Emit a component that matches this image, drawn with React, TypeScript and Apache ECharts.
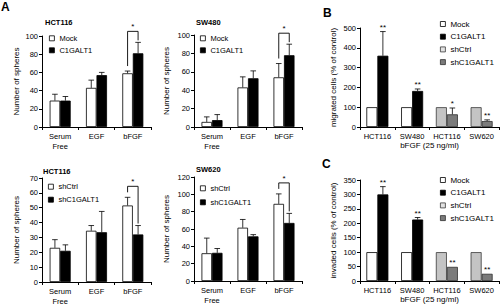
import React, { useEffect, useRef } from 'react';
import * as echarts from 'echarts';

const FONT = "'Liberation Sans', Arial, Helvetica, sans-serif";
const INK = '#000';

// ---------- Panel A: sphere formation ----------
const sphereCats = ['Serum\nFree', 'EGF', 'bFGF'];

// HCT116 (overexpression)
const hctMock = [29, 43, 59];
const hctMockSd = [7, 8.5, 2.5];
const hctC1 = [29, 57, 81];
const hctC1Sd = [4.5, 3, 12];
const hctSig = ['', '', '*'];

// SW480 (overexpression)
const swMock = [5.5, 43, 54];
const swMockSd = [5.5, 11.5, 15];
const swC1 = [7.5, 53, 78];
const swC1Sd = [6, 8, 12];
const swSig = ['', '', '*'];

// HCT116 (knockdown)
const hctShCtrl = [23, 34.5, 51.5];
const hctShCtrlSd = [5.5, 3.5, 5.5];
const hctSh = [21, 33.5, 32];
const hctShSd = [4, 14, 6];
const hctShSig = ['', '', '*'];

// SW620 (knockdown)
const sw620ShCtrl = [32, 61.5, 89];
const sw620ShCtrlSd = [17.5, 9.5, 11.5];
const sw620Sh = [32.5, 51.5, 67];
const sw620ShSd = [5, 2, 11];
const sw620Sig = ['', '', '*'];

// ---------- Panels B / C ----------
const bfgfCats = ['HCT116', 'SW480', 'HCT116', 'SW620'];

const migMock = [100, 100, null, null];
const migC1 = [360, 182, null, null];
const migC1Sd = [122, 10, null, null];
const migShCtrl = [null, null, 100, 100];
const migSh = [null, null, 64, 30];
const migShSd = [null, null, 32, 6];
const migSig = ['**', '**', '*', '**'];

const invMock = [100, 100, null, null];
const invC1 = [300, 213, null, null];
const invC1Sd = [27, 7, null, null];
const invShCtrl = [null, null, 100, 100];
const invSh = [null, null, 49, 25];
const invShSd = [null, null, null, null];
const invSig = ['**', '**', '**', '**'];

// ---------- styles ----------
const BW_A = 10.5;
const BW_B = 11;
const CAP = 2.8;
const WHITE_BAR = { color: '#ffffff', borderColor: '#000', borderWidth: 0.8 };
const BLACK_BAR = { color: '#000000', borderColor: '#000', borderWidth: 0.8 };
const LIGHT_BAR = { color: '#c4c4c4', borderColor: '#3a3a3a', borderWidth: 0.8 };
const DARK_BAR = { color: '#7b7b7b', borderColor: '#2e2e2e', borderWidth: 0.8 };
const LINE = { stroke: '#000', lineWidth: 0.8 };

function barSeries(gi: number, name: string, data: any[], style: any, bw: number, stack?: string) {
  return {
    type: 'bar', name, xAxisIndex: gi, yAxisIndex: gi,
    data: data.map((v) => (v == null ? '-' : v)),
    barWidth: bw, barGap: '0%', stack, itemStyle: style,
    silent: true, emphasis: { disabled: true }, z: 2,
  };
}

function errSeries(gi: number, means: any[], sds: any[], side: number, bw: number) {
  const data: number[][] = [];
  means.forEach((m, i) => {
    const s = sds[i];
    if (m != null && s) data.push([i, m, m + s]);
  });
  return {
    type: 'custom', xAxisIndex: gi, yAxisIndex: gi, silent: true, z: 3,
    data, encode: { x: 0, y: [1, 2] },
    renderItem: (params: any, api: any) => {
      const b = api.coord([api.value(0), api.value(1)]);
      const t = api.coord([api.value(0), api.value(2)]);
      const x = b[0] + (side * bw) / 2;
      return {
        type: 'group',
        children: [
          { type: 'line', shape: { x1: x, y1: b[1], x2: x, y2: t[1] }, style: LINE },
          { type: 'line', shape: { x1: x - CAP, y1: t[1], x2: x + CAP, y2: t[1] }, style: LINE },
        ],
      };
    },
  };
}

function bracketSeries(gi: number, sig: string[], mL: number[], sL: number[], mR: number[], sR: number[], bw: number) {
  const data: number[][] = [];
  sig.forEach((s, i) => {
    if (s) data.push([i, mL[i] + (sL[i] || 0), mR[i] + (sR[i] || 0)]);
  });
  return {
    type: 'custom', xAxisIndex: gi, yAxisIndex: gi, silent: true, z: 4,
    data, encode: { x: 0, y: [1, 2] },
    renderItem: (params: any, api: any) => {
      const i = api.value(0);
      const pl = api.coord([i, api.value(1)]);
      const pr = api.coord([i, api.value(2)]);
      const xl = pl[0] - bw / 2;
      const xr = pl[0] + bw / 2;
      const top = Math.min(pl[1], pr[1]) - 11;
      return {
        type: 'group',
        children: [
          {
            type: 'polyline',
            shape: { points: [[xl, pl[1] - 5], [xl, top], [xr, top], [xr, pr[1] - 2]] },
            style: { stroke: '#000', lineWidth: 0.9, fill: 'none' },
          },
          {
            type: 'text', x: (xl + xr) / 2, y: top - 0.5,
            style: { text: sig[i], fontSize: 8, fill: INK, align: 'center', verticalAlign: 'bottom', fontFamily: FONT },
          },
        ],
      };
    },
  };
}

function starSeries(gi: number, sig: string[], topMeans: any[], topSds: any[], bw: number) {
  const data = sig.map((s, i) => [i, (topMeans[i] || 0) + (topSds[i] || 0)]);
  return {
    type: 'custom', xAxisIndex: gi, yAxisIndex: gi, silent: true, z: 4,
    data, encode: { x: 0, y: 1 },
    renderItem: (params: any, api: any) => {
      const i = api.value(0);
      const p = api.coord([i, api.value(1)]);
      return {
        type: 'text', x: p[0] + bw / 2, y: p[1] - 0.5,
        style: { text: sig[i], fontSize: 8, fill: INK, align: 'center', verticalAlign: 'bottom', fontFamily: FONT },
      };
    },
  };
}

function xAxisCfg(gi: number, data: string[], fontSize: number, extra: any = {}) {
  return {
    type: 'category', gridIndex: gi, data,
    axisLine: { show: true, lineStyle: { color: '#000', width: 1 } },
    axisTick: { show: true, length: 3, alignWithLabel: false, interval: 0, lineStyle: { color: '#000' } },
    axisLabel: { fontSize, lineHeight: 10, margin: 4, interval: 0, color: INK, fontFamily: FONT },
    splitLine: { show: false },
    ...extra,
  };
}

function yAxisCfg(gi: number, max: number, interval: number, name: string, nameGap: number, fontSize: number) {
  return {
    type: 'value', gridIndex: gi, min: 0, max, interval,
    name, nameLocation: 'middle', nameGap,
    nameTextStyle: { fontSize: 8, color: INK, fontFamily: FONT },
    axisLine: { show: true, lineStyle: { color: '#000', width: 1 } },
    axisTick: { show: true, length: 3, lineStyle: { color: '#000' } },
    splitLine: { show: false },
    axisLabel: { fontSize, color: INK, margin: 4, fontFamily: FONT },
  };
}

function legendCfg(left: number, top: number, gap: number, fontSize: number, names: string[], styles: any[]) {
  return {
    show: true, orient: 'vertical', left, top, padding: 0, itemGap: gap,
    itemWidth: 5, itemHeight: 5, icon: 'rect', selectedMode: false,
    textStyle: { fontSize, lineHeight: 9, color: INK, fontFamily: FONT },
    data: names.map((n, i) => ({ name: n, itemStyle: styles[i] })),
  };
}

function titleCfg(text: string, left: number, top: number, fontSize: number) {
  return { text, left, top, padding: 0, textStyle: { fontSize, fontWeight: 'bold', color: '#000', fontFamily: FONT } };
}

export default function App() {
  const ref = useRef<HTMLDivElement>(null);
  useEffect(() => {
    if (!ref.current) return;
    const chart = echarts.init(ref.current, null, { renderer: 'svg' });
    const option: any = {
      animation: false,
      backgroundColor: '#ffffff',
      textStyle: { fontFamily: FONT },
      title: [
        titleCfg('A', 1, 1, 12),
        titleCfg('B', 323, 7, 12),
        titleCfg('C', 322, 158, 12),
        titleCfg('HCT116', 45, 18, 7.5),
        titleCfg('SW480', 196, 18, 7.5),
        titleCfg('HCT116', 43, 167, 7.5),
        titleCfg('SW620', 196, 165, 7.5),
      ],
      grid: [
        { left: 42, top: 36, width: 109, height: 91, outerBoundsMode: 'none' },
        { left: 194, top: 35, width: 108, height: 92, outerBoundsMode: 'none' },
        { left: 42, top: 178, width: 109, height: 104, outerBoundsMode: 'none' },
        { left: 194, top: 177, width: 108, height: 104, outerBoundsMode: 'none' },
        { left: 360, top: 28, width: 139, height: 99, outerBoundsMode: 'none' },
        { left: 360, top: 180, width: 139, height: 101, outerBoundsMode: 'none' },
      ],
      xAxis: [
        xAxisCfg(0, sphereCats, 7.5),
        xAxisCfg(1, sphereCats, 7.5),
        xAxisCfg(2, sphereCats, 7.5),
        xAxisCfg(3, sphereCats, 7.5),
        xAxisCfg(4, bfgfCats, 7.5, { name: 'bFGF (25 ng/ml)', nameLocation: 'middle', nameGap: 14, nameTextStyle: { fontSize: 8, color: INK, fontFamily: FONT } }),
        xAxisCfg(5, bfgfCats, 7.5, { name: 'bFGF (25 ng/ml)', nameLocation: 'middle', nameGap: 12, nameTextStyle: { fontSize: 8, color: INK, fontFamily: FONT } }),
      ],
      yAxis: [
        yAxisCfg(0, 100, 20, 'Number of spheres', 22, 7.5),
        yAxisCfg(1, 100, 20, 'Number of spheres', 24, 7.5),
        yAxisCfg(2, 70, 10, 'Number of spheres', 22, 7.5),
        yAxisCfg(3, 120, 20, 'Number of spheres', 24, 7.5),
        yAxisCfg(4, 500, 100, 'migrated cells (% of control)', 23, 7.5),
        yAxisCfg(5, 350, 50, 'invaded cells (% of control)', 23, 7.5),
      ],
      legend: [
        legendCfg(49, 33.8, 3, 7.5, ['Mock', 'C1GALT1'], [WHITE_BAR, BLACK_BAR]),
        legendCfg(200, 33.8, 3, 7.5, ['Mock', 'C1GALT1'], [WHITE_BAR, BLACK_BAR]),
        legendCfg(48, 182.2, 4, 7.5, ['shCtrl', 'shC1GALT1'], [WHITE_BAR, BLACK_BAR]),
        legendCfg(200, 183.8, 5, 7.5, ['shCtrl', 'shC1GALT1'], [WHITE_BAR, BLACK_BAR]),
        legendCfg(440, 19.5, 3.7, 8, ['Mock', 'C1GALT1', 'shCtrl', 'shC1GALT1'], [WHITE_BAR, BLACK_BAR, { ...LIGHT_BAR, color: '#e2e2e2' }, DARK_BAR]),
        legendCfg(440, 175.5, 3.7, 8, ['Mock', 'C1GALT1', 'shCtrl', 'shC1GALT1'], [WHITE_BAR, BLACK_BAR, { ...LIGHT_BAR, color: '#e2e2e2' }, DARK_BAR]),
      ],
      series: [
        // A: HCT116
        barSeries(0, 'Mock', hctMock, WHITE_BAR, BW_A),
        barSeries(0, 'C1GALT1', hctC1, BLACK_BAR, BW_A),
        errSeries(0, hctMock, hctMockSd, -1, BW_A),
        errSeries(0, hctC1, hctC1Sd, 1, BW_A),
        bracketSeries(0, hctSig, hctMock, hctMockSd, hctC1, hctC1Sd, BW_A),
        // A: SW480
        barSeries(1, 'Mock', swMock, WHITE_BAR, BW_A),
        barSeries(1, 'C1GALT1', swC1, BLACK_BAR, BW_A),
        errSeries(1, swMock, swMockSd, -1, BW_A),
        errSeries(1, swC1, swC1Sd, 1, BW_A),
        bracketSeries(1, swSig, swMock, swMockSd, swC1, swC1Sd, BW_A),
        // A: HCT116 knockdown
        barSeries(2, 'shCtrl', hctShCtrl, WHITE_BAR, BW_A),
        barSeries(2, 'shC1GALT1', hctSh, BLACK_BAR, BW_A),
        errSeries(2, hctShCtrl, hctShCtrlSd, -1, BW_A),
        errSeries(2, hctSh, hctShSd, 1, BW_A),
        bracketSeries(2, hctShSig, hctShCtrl, hctShCtrlSd, hctSh, hctShSd, BW_A),
        // A: SW620 knockdown
        barSeries(3, 'shCtrl', sw620ShCtrl, WHITE_BAR, BW_A),
        barSeries(3, 'shC1GALT1', sw620Sh, BLACK_BAR, BW_A),
        errSeries(3, sw620ShCtrl, sw620ShCtrlSd, -1, BW_A),
        errSeries(3, sw620Sh, sw620ShSd, 1, BW_A),
        bracketSeries(3, sw620Sig, sw620ShCtrl, sw620ShCtrlSd, sw620Sh, sw620ShSd, BW_A),
        // B: migration
        barSeries(4, 'Mock', migMock, WHITE_BAR, BW_B, 'migL'),
        barSeries(4, 'C1GALT1', migC1, BLACK_BAR, BW_B, 'migR'),
        barSeries(4, 'shCtrl', migShCtrl, LIGHT_BAR, BW_B, 'migL'),
        barSeries(4, 'shC1GALT1', migSh, DARK_BAR, BW_B, 'migR'),
        errSeries(4, migC1, migC1Sd, 1, BW_B),
        errSeries(4, migSh, migShSd, 1, BW_B),
        starSeries(4, migSig, migC1.map((v, i) => (v != null ? v : migSh[i])), migC1Sd.map((v, i) => (v != null ? v : migShSd[i])), BW_B),
        // C: invasion
        barSeries(5, 'Mock', invMock, WHITE_BAR, BW_B, 'invL'),
        barSeries(5, 'C1GALT1', invC1, BLACK_BAR, BW_B, 'invR'),
        barSeries(5, 'shCtrl', invShCtrl, LIGHT_BAR, BW_B, 'invL'),
        barSeries(5, 'shC1GALT1', invSh, DARK_BAR, BW_B, 'invR'),
        errSeries(5, invC1, invC1Sd, 1, BW_B),
        errSeries(5, invSh, invShSd, 1, BW_B),
        starSeries(5, invSig, invC1.map((v, i) => (v != null ? v : invSh[i])), invC1Sd.map((v, i) => (v != null ? v : invShSd[i])), BW_B),
      ],
    };
    chart.setOption(option);
    return () => chart.dispose();
  }, []);
  return <div ref={ref} style={{ position: 'absolute', left: 0, top: 0, width: 500, height: 305 }} />;
}
